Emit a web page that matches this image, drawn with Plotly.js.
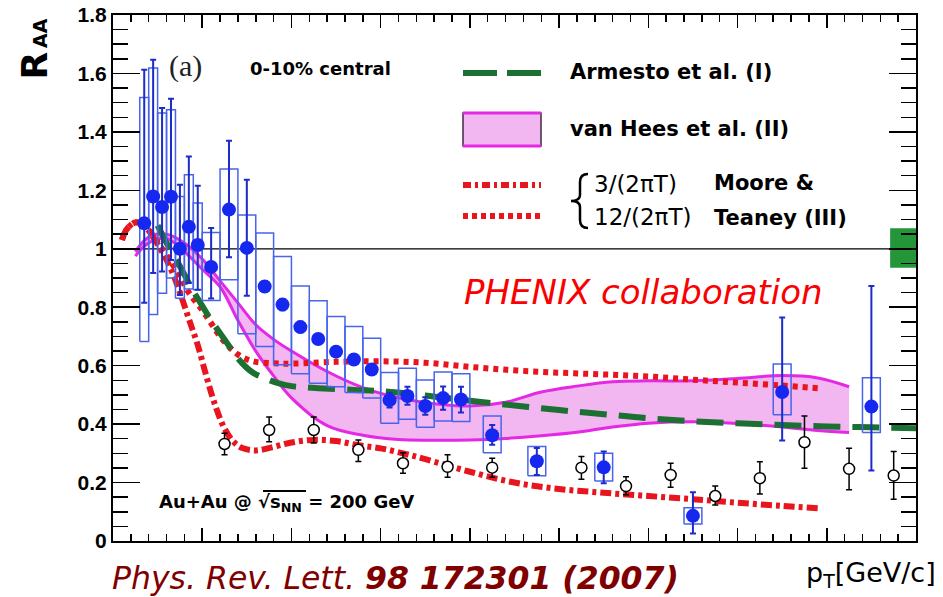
<!DOCTYPE html>
<html>
<head>
<meta charset="utf-8">
<script src="https://cdn.plot.ly/plotly-3.0.1.min.js"></script>
<style>
  html, body { margin: 0; padding: 0; background: #fff; }
  #chart { width: 943px; height: 597px; }
</style>
</head>
<body>
<div id="chart"></div>
<script>
// Heavy-flavour electron R_AA, Au+Au 0-10% central, sqrt(s_NN) = 200 GeV

// --- electrons (filled circles) ---
const eX      = [0.35,0.45,0.55,0.65,0.75,0.85,0.95,1.1,1.3,1.5,1.7,1.9,2.1,2.3,2.5,2.7,2.9,3.1,3.3,3.5,3.7,3.9,4.25,4.75,5.5,6.5,7.5,8.5];
const eY      = [1.087,1.179,1.143,1.178,1.000,1.075,1.013,0.938,1.134,1.003,0.871,0.809,0.732,0.691,0.648,0.621,0.587,0.482,0.496,0.462,0.489,0.484,0.362,0.273,0.252,0.086,0.510,0.460];
const eStatHi = [1.613,1.647,1.482,1.513,1.219,1.316,1.216,1.071,1.370,1.236,0.890,0.828,0.750,0.708,0.665,0.638,0.604,0.507,0.528,0.492,0.529,0.528,0.397,0.318,0.306,0.167,0.765,0.873];
const eStatLo = [0.815,0.917,0.922,0.962,0.842,0.883,0.860,0.830,0.971,0.839,0.852,0.790,0.714,0.674,0.631,0.604,0.570,0.457,0.466,0.432,0.449,0.440,0.329,0.226,0.198,0.026,0.344,0.241];
const eSysHi  = [1.518,1.619,1.465,1.476,1.179,1.253,1.157,1.056,1.273,1.116,1.054,0.974,0.873,0.822,0.768,0.734,0.694,0.577,0.591,0.551,0.578,0.572,0.428,0.323,0.300,0.114,0.606,0.559];
const eSysLo  = [0.683,0.775,0.848,0.900,0.831,0.862,0.860,0.823,0.894,0.709,0.666,0.603,0.572,0.540,0.528,0.508,0.489,0.403,0.417,0.389,0.411,0.409,0.302,0.223,0.205,0.058,0.432,0.371];

// --- pi0 (open circles) ---
const pX  = [1.25,1.75,2.25,2.75,3.25,3.75,4.25,5.25,5.75,6.25,6.75,7.25,7.75,8.25,8.75];
const pY  = [0.332,0.380,0.380,0.312,0.266,0.254,0.251,0.251,0.188,0.226,0.154,0.215,0.338,0.247,0.224];
const pHi = [0.369,0.424,0.424,0.346,0.302,0.295,0.283,0.289,0.220,0.266,0.188,0.271,0.428,0.317,0.306];
const pLo = [0.295,0.340,0.335,0.272,0.232,0.218,0.218,0.211,0.158,0.184,0.123,0.161,0.249,0.175,0.143];

// --- Armesto et al. (I) ---
const armX = [0.5,0.6,0.75,0.9,1.0,1.1,1.25,1.4,1.55,1.7,1.85,2.0,2.3,2.7,3.0,3.5,4.0,4.5,5.0,5.5,6.0,6.5,7.0,7.5,8.0,8.5,9.0];
const armY = [1.08,1.02,0.94,0.855,0.805,0.755,0.69,0.625,0.58,0.557,0.54,0.53,0.523,0.517,0.513,0.498,0.48,0.464,0.448,0.434,0.42,0.41,0.403,0.397,0.392,0.389,0.386];

// --- van Hees et al. (II) band ---
const vhX  = [0.25,0.4,0.6,0.8,1.0,1.2,1.4,1.6,1.8,2.0,2.4,2.8,3.2,3.6,4.0,4.4,4.8,5.2,5.6,6.0,6.5,7.0,7.5,7.9,8.25];
const vhHi = [0.99,1.04,1.05,1.02,0.965,0.89,0.815,0.74,0.69,0.65,0.58,0.525,0.49,0.47,0.462,0.475,0.51,0.53,0.545,0.548,0.548,0.556,0.566,0.558,0.528];
const vhLo = [0.975,1.02,1.035,0.99,0.93,0.87,0.755,0.65,0.565,0.49,0.395,0.362,0.347,0.345,0.346,0.351,0.36,0.372,0.39,0.403,0.408,0.402,0.39,0.378,0.371];

// --- Moore & Teaney (III) ---
const mt3X = [0.1,0.15,0.25,0.35,0.45,0.55,0.65,0.75,0.85,0.95,1.05,1.15,1.25,1.35,1.45,1.6,1.8,2.0,2.25,2.5,2.75,3.0,3.25,3.5,4.0,4.5,5.0,5.5,6.0,6.5,7.0,7.5,7.9];
const mt3Y = [1.03,1.065,1.09,1.08,1.04,0.99,0.93,0.85,0.76,0.67,0.56,0.46,0.385,0.34,0.318,0.31,0.322,0.337,0.346,0.342,0.328,0.317,0.30,0.28,0.237,0.2,0.178,0.165,0.154,0.143,0.131,0.12,0.112];
const mt12X = [0.1,0.15,0.25,0.35,0.45,0.55,0.65,0.75,0.85,1.0,1.1,1.2,1.3,1.4,1.5,1.6,1.8,2.0,2.5,3.0,3.5,4.0,4.5,5.0,5.5,6.0,6.5,7.0,7.5,7.9];
const mt12Y = [1.03,1.065,1.09,1.08,1.045,1.0,0.955,0.905,0.85,0.79,0.745,0.70,0.665,0.638,0.622,0.613,0.608,0.607,0.613,0.615,0.61,0.596,0.584,0.576,0.57,0.563,0.552,0.542,0.532,0.523];

// --- normalisation uncertainty around R_AA = 1 ---
const normBand = [0.935, 1.07];

// axis ranges
const xRange = [0, 9];
const yRange = [0, 1.8];

// plot-area geometry (pixels) and helpers for paper coordinates
const L = 113, R = 916, T = 15, B = 541;
const W = 943, H = 597;
const fx = px => (px - L) / (R - L);
const fy = py => (B - py) / (B - T);

const RED = 'rgb(232,20,30)';
const GREEN = 'rgb(28,112,50)';
const MAG = 'rgb(228,40,228)';
const PINK = 'rgb(242,182,240)';
const BLUE = 'rgb(22,40,240)';
const BLUE_ERR = 'rgb(28,44,200)';
const BLUE_BOX = 'rgb(72,100,236)';

// systematic boxes built from the electron arrays
const boxX = [], boxY = [];
eX.forEach((x, i) => {
  const hw = x < 1 ? 0.05 : 0.1;
  boxX.push(x - hw, x + hw, x + hw, x - hw, x - hw, null);
  boxY.push(eSysLo[i], eSysLo[i], eSysHi[i], eSysHi[i], eSysLo[i], null);
});

const traces = [
  { // van Hees fill
    x: vhX.concat(vhX.slice().reverse()),
    y: vhHi.concat(vhLo.slice().reverse()),
    mode: 'lines', fill: 'toself', fillcolor: PINK,
    line: { width: 0 }, hoverinfo: 'skip'
  },
  { x: vhX, y: vhHi, mode: 'lines', line: { color: MAG, width: 3, shape: 'spline' } },
  { x: vhX, y: vhLo, mode: 'lines', line: { color: MAG, width: 3, shape: 'spline' } },
  { x: mt12X, y: mt12Y, mode: 'lines', line: { color: RED, width: 6, dash: '5px,5px', shape: 'spline' } },
  { x: mt3X, y: mt3Y, mode: 'lines', line: { color: RED, width: 6, dash: '11px,4px,4px,4px', shape: 'spline' } },
  { x: armX, y: armY, mode: 'lines', line: { color: GREEN, width: 6, dash: '27px,12px', shape: 'spline' } },
  { // systematic boxes
    x: boxX, y: boxY, mode: 'lines', line: { color: BLUE_BOX, width: 1.5 }, connectgaps: false
  },
  { // pi0
    x: pX, y: pY, mode: 'markers',
    marker: { symbol: 'circle', size: 11, color: 'white', line: { color: 'black', width: 1.5 } },
    error_y: { type: 'data', symmetric: false,
      array: pHi.map((v, i) => v - pY[i]), arrayminus: pY.map((v, i) => v - pLo[i]),
      color: 'black', thickness: 1.5, width: 3 }
  },
  { // electrons
    x: eX, y: eY, mode: 'markers',
    marker: { symbol: 'circle', size: 14, color: BLUE },
    error_y: { type: 'data', symmetric: false,
      array: eStatHi.map((v, i) => v - eY[i]), arrayminus: eY.map((v, i) => v - eStatLo[i]),
      color: BLUE_ERR, thickness: 2, width: 3 }
  }
];

// brace joining the two Moore & Teaney entries
const bracePts = [[588,174],[580,174],[580,182],[580,195],[580,201],[571,201],[580,201],[580,207],[580,220],[580,228],[588,228]];
const p = bracePts.map(([a, b]) => fx(a).toFixed(5) + ',' + fy(b).toFixed(5));
const bracePath = `M${p[0]} Q${p[1]} ${p[2]} L${p[3]} Q${p[4]} ${p[5]} Q${p[6]} ${p[7]} L${p[8]} Q${p[9]} ${p[10]}`;

const shapes = [
  { type: 'rect', xref: 'x', yref: 'y', layer: 'below',
    x0: xRange[1] - 0.29, x1: xRange[1], y0: normBand[0], y1: normBand[1],
    fillcolor: 'rgb(36,150,58)', line: { width: 0 } },
  { type: 'line', xref: 'paper', yref: 'y', layer: 'below', x0: 0, x1: 1, y0: 1, y1: 1,
    line: { color: 'black', width: 1.3 } },
  // legend samples
  { type: 'line', xref: 'paper', yref: 'paper', x0: fx(463), x1: fx(541), y0: fy(73), y1: fy(73),
    line: { color: GREEN, width: 6, dash: '34px,10px' } },
  { type: 'rect', xref: 'paper', yref: 'paper', x0: fx(463), x1: fx(541), y0: fy(146), y1: fy(113),
    fillcolor: PINK, line: { color: 'rgb(70,40,70)', width: 1.5 } },
  { type: 'line', xref: 'paper', yref: 'paper', x0: fx(463), x1: fx(541), y0: fy(113), y1: fy(113),
    line: { color: MAG, width: 3 } },
  { type: 'line', xref: 'paper', yref: 'paper', x0: fx(463), x1: fx(541), y0: fy(146), y1: fy(146),
    line: { color: MAG, width: 3 } },
  { type: 'line', xref: 'paper', yref: 'paper', x0: fx(463), x1: fx(541), y0: fy(185), y1: fy(185),
    line: { color: RED, width: 6, dash: '8px,4px,3px,4px' } },
  { type: 'line', xref: 'paper', yref: 'paper', x0: fx(463), x1: fx(541), y0: fy(216), y1: fy(216),
    line: { color: RED, width: 6, dash: '5px,4px' } },
  { type: 'path', xref: 'paper', yref: 'paper', path: bracePath,
    line: { color: 'black', width: 2.5 } },
  // overline of the square root
  { type: 'line', xref: 'paper', yref: 'paper', x0: fx(263), x1: fx(306), y0: fy(491), y1: fy(491),
    line: { color: 'black', width: 2 } }
];

const SANS = 'DejaVu Sans, sans-serif';
function ann(text, x, y, o) {
  return Object.assign({ xref: 'paper', yref: 'paper', x: fx(x), y: fy(y), text: text,
    showarrow: false, xanchor: 'left', yanchor: 'middle',
    font: { family: SANS, size: 21, color: 'black' } }, o || {});
}
const bold = (size, color) => ({ family: SANS, size: size, color: color || 'black', weight: 700 });

const annotations = [
  ann('R', 33.5, 66, { xanchor: 'center', textangle: -90, font: bold(36) }),
  ann('AA', 40, 33, { xanchor: 'center', textangle: -90, font: bold(19) }),
  ann('(a)', 185, 66, { xanchor: 'center', font: { family: 'Liberation Serif, serif', size: 30, color: '#222' } }),
  ann('0-10% central', 248, 68, { font: bold(18) }),
  ann('Armesto et al. (I)', 568, 72, { font: bold(21) }),
  ann('van Hees et al. (II)', 568, 129, { font: bold(21) }),
  ann('3/(2πT)', 592, 184, { font: { family: SANS, size: 23, color: 'black' } }),
  ann('12/(2πT)', 592, 217, { font: { family: SANS, size: 23, color: 'black' } }),
  ann('Moore &', 712, 183, { font: bold(21) }),
  ann('Teaney (III)', 712, 218, { font: bold(21) }),
  ann('<i>PHENIX collaboration</i>', 643, 292, { xanchor: 'center', font: { family: SANS, size: 34, color: 'rgb(250,0,0)' } }),
  ann('Au+Au @ √s<sub>NN</sub> = 200 GeV', 157, 503, { font: bold(18) }),
  ann('<i>Phys. Rev. Lett. <b>98 172301 (2007)</b></i>', 110, 578, { font: { family: SANS, size: 31.5, color: 'rgb(128,0,0)' } }),
  ann('p<sub>T</sub>[GeV/c]', 938, 574, { xanchor: 'right', font: { family: SANS, size: 27, color: 'black' } })
];

const layout = {
  width: W, height: H,
  margin: { l: L, r: W - R, t: T, b: H - B, pad: 0 },
  paper_bgcolor: 'white', plot_bgcolor: 'white',
  showlegend: false,
  xaxis: {
    range: xRange, dtick: 1, tick0: 0, ticks: 'inside', ticklen: 13, tickwidth: 1.5, tickcolor: 'black',
    minor: { dtick: 0.2, ticks: 'inside', ticklen: 7, tickwidth: 1.5, tickcolor: 'black', showgrid: false },
    showticklabels: false, showgrid: false, zeroline: false,
    showline: true, linecolor: 'black', linewidth: 2, mirror: 'ticks'
  },
  yaxis: {
    range: yRange, dtick: 0.2, tick0: 0, ticks: 'inside', ticklen: 27, tickwidth: 1.5, tickcolor: 'black',
    minor: { dtick: 0.05, ticks: 'inside', ticklen: 15, tickwidth: 1.5, tickcolor: 'black', showgrid: false },
    tickfont: { family: 'Liberation Sans, Arial, sans-serif', size: 21, color: 'black', weight: 700 },
    ticklabelstandoff: 0,
    showgrid: false, zeroline: false,
    showline: true, linecolor: 'black', linewidth: 2, mirror: 'ticks'
  },
  shapes: shapes,
  annotations: annotations
};

Plotly.newPlot('chart', traces, layout, { staticPlot: true, displayModeBar: false });
</script>
</body>
</html>
